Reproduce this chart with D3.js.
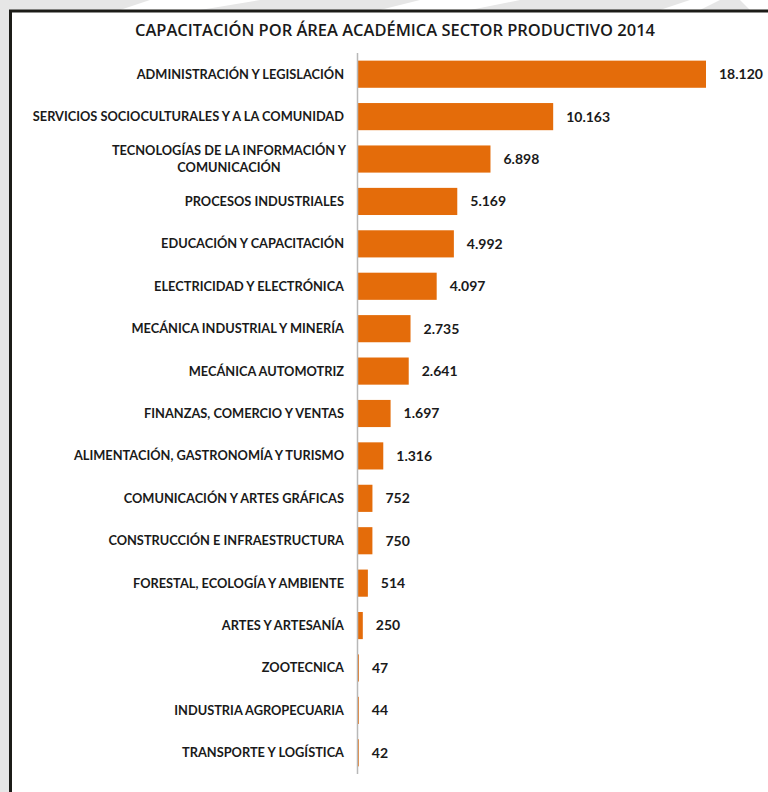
<!DOCTYPE html>
<html>
<head>
<meta charset="utf-8">
<script src="https://cdn.jsdelivr.net/npm/d3@7"></script>
<style>
  body { margin: 0; background: #e6e6e6; }
  svg { display: block; }
</style>
</head>
<body>
<div id="chart"></div>
<script>
// data
var categories = [
  ["ADMINISTRACIÓN Y LEGISLACIÓN"],
  ["SERVICIOS SOCIOCULTURALES Y A LA COMUNIDAD"],
  ["TECNOLOGÍAS DE LA INFORMACIÓN Y", "COMUNICACIÓN"],
  ["PROCESOS INDUSTRIALES"],
  ["EDUCACIÓN Y CAPACITACIÓN"],
  ["ELECTRICIDAD Y ELECTRÓNICA"],
  ["MECÁNICA INDUSTRIAL Y MINERÍA"],
  ["MECÁNICA AUTOMOTRIZ"],
  ["FINANZAS, COMERCIO Y VENTAS"],
  ["ALIMENTACIÓN, GASTRONOMÍA Y TURISMO"],
  ["COMUNICACIÓN Y ARTES GRÁFICAS"],
  ["CONSTRUCCIÓN E INFRAESTRUCTURA"],
  ["FORESTAL, ECOLOGÍA Y AMBIENTE"],
  ["ARTES Y ARTESANÍA"],
  ["ZOOTECNICA"],
  ["INDUSTRIA AGROPECUARIA"],
  ["TRANSPORTE Y LOGÍSTICA"]
];
var values = [18120, 10163, 6898, 5169, 4992, 4097, 2735, 2641, 1697, 1316, 752, 750, 514, 250, 47, 44, 42];
var valueLabels = ["18.120", "10.163", "6.898", "5.169", "4.992", "4.097", "2.735", "2.641", "1.697", "1.316", "752", "750", "514", "250", "47", "44", "42"];
var title = "CAPACITACIÓN POR ÁREA ACADÉMICA SECTOR PRODUCTIVO 2014";

var W = 768, H = 792;
var margin = {top: 53, left: 358, bottom: 18, right: 62};
var width = 706 - margin.left;
var height = 774 - margin.top;

var svg = d3.select("#chart").append("svg")
  .attr("width", W).attr("height", H);

// faint watermark stripes outside the frame
var stripes = [[150, 0, 260, 0, 200, 10, 120, 10], [420, 0, 520, 0, 470, 10, 380, 10], [690, 0, 720, 0, 700, 10, 660, 10], [740, 0, 768, 0, 768, 10, 750, 10]];
svg.selectAll(".stripe").data(stripes).enter().append("polygon")
  .attr("points", function(p) { return [[p[0], p[1]], [p[2], p[3]], [p[4], p[5]], [p[6], p[7]]].join(" "); })
  .attr("fill", "#ffffff");

// frame (right and bottom edges run off the page)
svg.append("rect")
  .attr("x", 10.5).attr("y", 11)
  .attr("width", 770).attr("height", 800)
  .attr("fill", "#ffffff")
  .attr("stroke", "#1c1c18")
  .attr("stroke-width", 3);

svg.append("text")
  .attr("x", 395).attr("y", 36)
  .attr("text-anchor", "middle")
  .attr("font-family", "'Open Sans', sans-serif")
  .attr("font-size", 16)
  .attr("font-weight", 600)
  .attr("fill", "#1a1a1a")
  .attr("textLength", 520)
  .attr("lengthAdjust", "spacingAndGlyphs")
  .text(title);

var g = svg.append("g")
  .attr("transform", "translate(" + margin.left + "," + margin.top + ")");

var x = d3.scaleLinear()
  .domain([0, 18120])
  .range([0, width]);

var y = d3.scaleBand()
  .domain(d3.range(values.length))
  .range([0, height])
  .paddingInner(0.36)
  .paddingOuter(0.18);

// bars
g.selectAll(".bar")
  .data(values)
  .enter().append("rect")
    .attr("x", x(0))
    .attr("y", function(d, i) { return y(i); })
    .attr("width", function(d) { return x(d); })
    .attr("height", y.bandwidth())
    .attr("fill", "#e46c0a");

// axis line
g.append("line")
  .attr("x1", -0.5).attr("x2", -0.5)
  .attr("y1", 0).attr("y2", height)
  .attr("stroke", "#b8b8b8")
  .attr("stroke-width", 1.5);

// category labels
var labels = g.selectAll(".cat")
  .data(categories)
  .enter().append("text")
    .attr("class", "cat")
    .attr("font-family", "Lato, sans-serif")
    .attr("font-weight", 700)
    .attr("font-size", 12.8)
    .attr("fill", "#1a1a1a")
    .attr("transform", function(d, i) {
      return "translate(0," + (y(i) + y.bandwidth() / 2) + ")";
    });

labels.each(function(lines) {
  var t = d3.select(this);
  var n = lines.length;
  lines.forEach(function(line, k) {
    t.append("tspan")
      .attr("x", n > 1 ? -129 : -14)
      .attr("y", (k - (n - 1) / 2) * 18)
      .attr("dy", "0.35em")
      .attr("text-anchor", n > 1 ? "middle" : "end")
      .text(line);
  });
});

// value labels
g.selectAll(".val")
  .data(values)
  .enter().append("text")
    .attr("x", function(d) { return x(d) + 13; })
    .attr("y", function(d, i) { return y(i) + y.bandwidth() / 2; })
    .attr("dy", "0.35em")
    .attr("font-family", "Lato, sans-serif")
    .attr("font-weight", 700)
    .attr("font-size", 14)
    .attr("fill", "#1a1a1a")
    .text(function(d, i) { return valueLabels[i]; });
</script>
</body>
</html>
